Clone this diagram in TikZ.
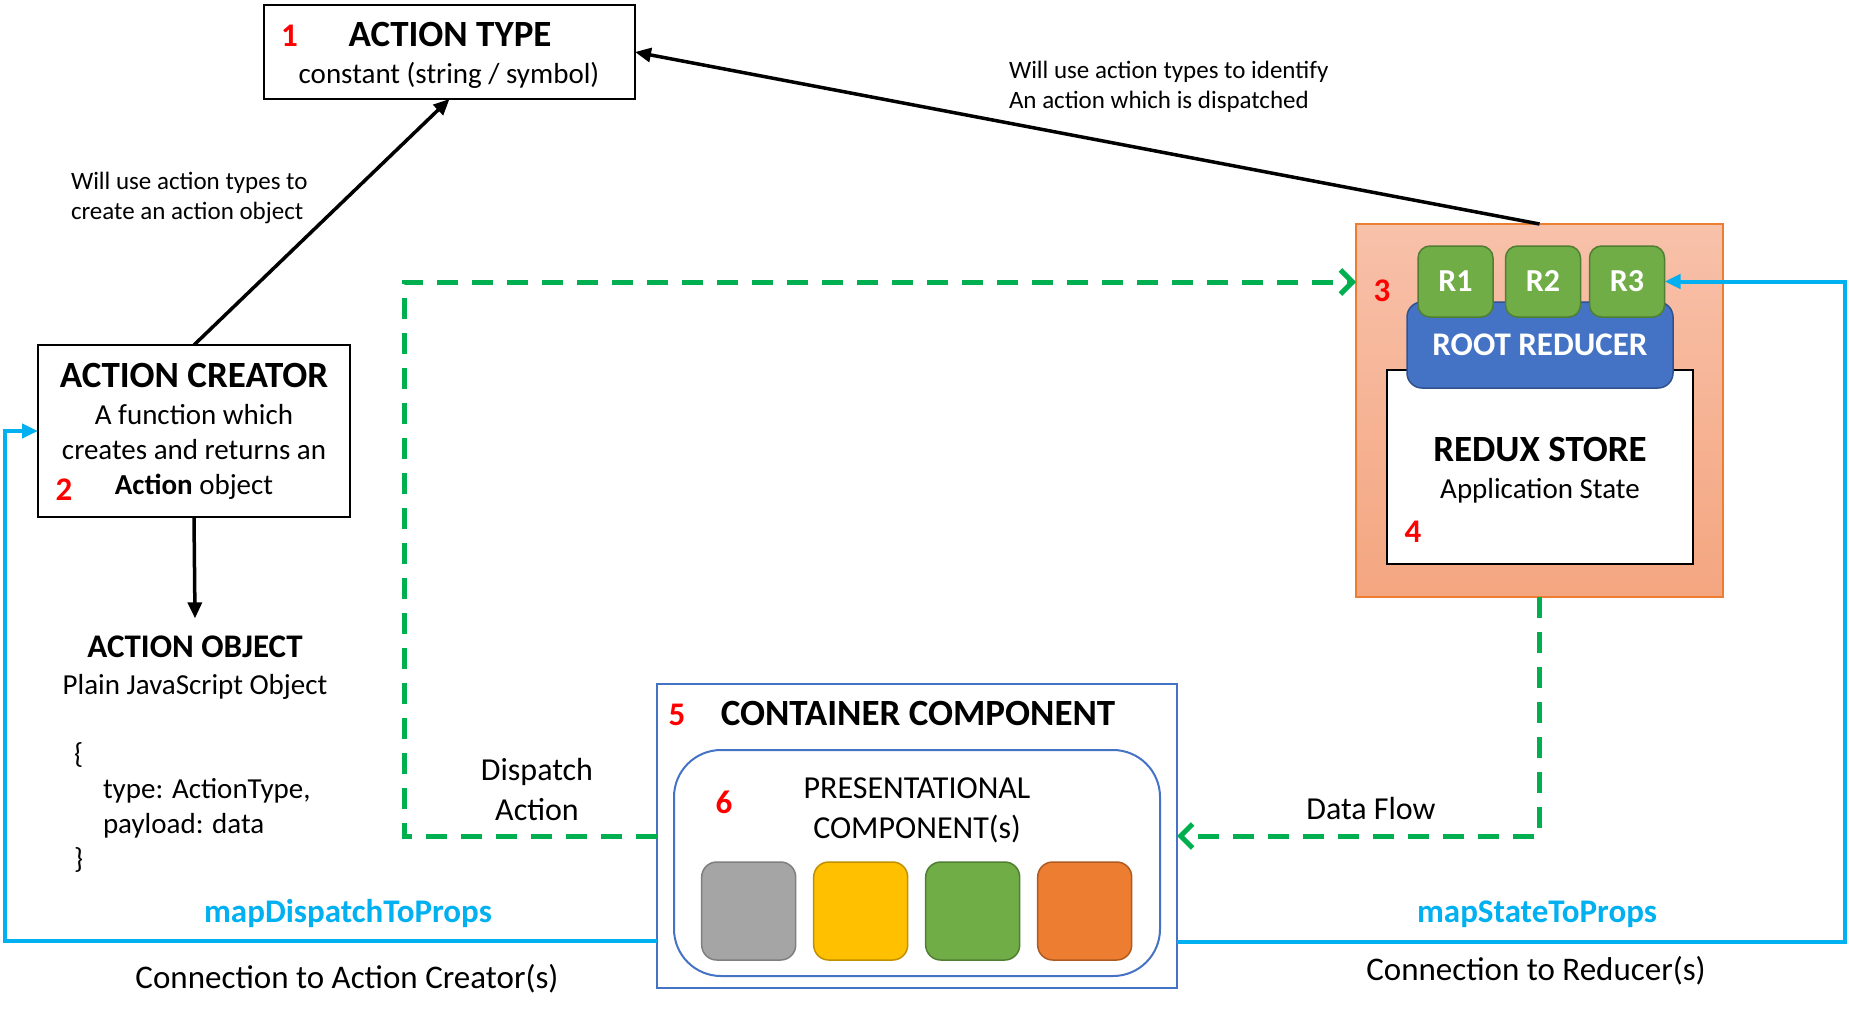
\documentclass[tikz,border=0pt]{standalone}
\usepackage{fontspec}
\setmainfont{Carlito}
\usetikzlibrary{arrows.meta,positioning}
\definecolor{numred}{HTML}{FF0000}
\definecolor{linkblue}{HTML}{00B0F0}
\definecolor{flowgreen}{HTML}{00B050}
\definecolor{boxblue}{HTML}{4472C4}
\definecolor{boxblueline}{HTML}{2F528F}
\definecolor{redgreen}{HTML}{70AD47}
\definecolor{redgreenline}{HTML}{507E32}
\definecolor{storeline}{HTML}{ED7D31}
\definecolor{storetop}{HTML}{F8C1AA}
\definecolor{storebot}{HTML}{F4A680}
\definecolor{tilegray}{HTML}{A5A5A5}
\definecolor{tilegrayline}{HTML}{7F7F7F}
\definecolor{tileyellow}{HTML}{FFC000}
\definecolor{tileyellowline}{HTML}{BF9000}
\definecolor{tilegreen}{HTML}{70AD47}
\definecolor{tilegreenline}{HTML}{507E32}
\definecolor{tileorange}{HTML}{ED7D31}
\definecolor{tileorangeline}{HTML}{AE5A21}
\begin{document}
\begin{tikzpicture}[x=1pt,y=-1pt,
        every node/.style={inner sep=0pt,outer sep=0pt},
        title/.style={font=\bfseries\fontsize{37}{44}\selectfont,anchor=base},
        body/.style={font=\fontsize{29}{35}\selectfont,anchor=base,align=center},
        note/.style={font=\fontsize{25}{30}\selectfont,anchor=base west,align=left},
        tag/.style={font=\fontsize{32}{40}\selectfont,anchor=base,align=center},
        conn/.style={font=\fontsize{33}{40}\selectfont,anchor=base},
        num/.style={font=\bfseries\fontsize{33}{40}\selectfont,text=numred,anchor=base},
        maplabel/.style={font=\bfseries\fontsize{33}{40}\selectfont,text=linkblue,anchor=base},
        plainbox/.style={draw,line width=2pt,fill=white},
        reducer/.style={draw=redgreenline,fill=redgreen,line width=1.5pt,rounded corners=12pt,minimum width=75pt,minimum height=71pt,text=white,font=\bfseries\fontsize{32}{40}\selectfont},
        tile/.style={line width=1.5pt,rounded corners=15pt,minimum width=94pt,minimum height=98pt},
        blackarrow/.style={line width=3.5pt,-{Triangle[length=16pt,width=14pt]}},
        flow/.style={flowgreen,line width=5pt,dash pattern=on 21pt off 14pt,-{Straight Barb[length=12pt,width=24pt]}},
        mapline/.style={linkblue,line width=4pt,-{Triangle[length=16pt,width=14pt]}}]
        \useasboundingbox (0,0) rectangle (1849,1017);
        \node[plainbox,minimum width=371pt,minimum height=94pt] (type) at (449.5,52) {};
        \node[title] (typetitle) at (450,46) {ACTION TYPE};
        \node[body] (typesub) at (449,83) {constant (string / symbol)};
        \node[num] (n1) at (289.5,46) {1};
        \node[note] (typenote) at (1009,108) {Will use action types to identify\\An action which is dispatched};
        \node[note] (creatornote) at (71,219) {Will use action types to\\create an action object};
        \node[plainbox,minimum width=312pt,minimum height=172pt] (creator) at (194,431) {};
        \node[title] (creatortitle) at (194,387) {ACTION CREATOR};
        \node[body] (creatortext) at (194,494) {A function which\\creates and returns an\\\textbf{Action} object};
        \node[num] (n2) at (64,500) {2};
        \node[font=\bfseries\fontsize{33}{40}\selectfont,anchor=base] (objtitle) at (195,657) {ACTION OBJECT};
        \node[body] (objsub) at (195,694) {Plain JavaScript Object};
        \node[body,anchor=base west,align=left] (objcode) at (74,868) {\{\\\hspace*{29pt}type: ActionType,\\\hspace*{29pt}payload: data\\\}};
        \node[draw=storeline,line width=1.5pt,top color=storetop,bottom color=storebot,minimum width=367pt,minimum height=373pt] (store) at (1539.5,410.5) {};
        \node[plainbox,minimum width=306pt,minimum height=194pt] (storebox) at (1540,467) {};
        \node[draw=boxblueline,fill=boxblue,line width=1.5pt,rounded corners=15pt,minimum width=266pt,minimum height=86pt,text=white,font=\bfseries\fontsize{33}{40}\selectfont] (root) at (1540,345) {ROOT REDUCER};
        \foreach \x [count=\i] in {1455.5,1543,1627}
            \node[reducer] (r\i) at (\x,281.5) {R\i};
        \node[title] (storetitle) at (1540,461) {REDUX STORE};
        \node[body] (storesub) at (1540,498) {Application State};
        \node[num] (n3) at (1382,301) {3};
        \node[num] (n4) at (1413,542) {4};
        \node[draw=boxblue,line width=2pt,minimum width=520pt,minimum height=304pt] (container) at (917,836) {};
        \node[title] (containertitle) at (918,725) {CONTAINER COMPONENT};
        \node[num] (n5) at (677,725) {5};
        \node[draw=boxblue,line width=2pt,rounded corners=47pt,minimum width=486pt,minimum height=226pt] (present) at (917,863) {};
        \node[tag] (presenttext) at (917,838) {PRESENTATIONAL\\COMPONENT(s)};
        \node[num] (n6) at (724,813) {6};
        \foreach \c [count=\i] in {tilegray,tileyellow,tilegreen,tileorange}
            \node[tile,fill=\c,draw=\c line] (tile\i) at ({748.7+112*(\i-1)},911) {};
        \node[tag] (dispatchtag) at (537,820) {Dispatch\\Action};
        \node[tag] (flowtag) at (1371,819) {Data Flow};
        \node[maplabel] (dispatchmap) at (348,922) {mapDispatchToProps};
        \node[conn] (dispatchconn) at (347,988) {Connection to Action Creator(s)};
        \node[maplabel] (statemap) at (1537,922) {mapStateToProps};
        \node[conn] (stateconn) at (1536,980) {Connection to Reducer(s)};
        \draw[blackarrow] (store.north) to (type.east);
        \draw[blackarrow] (creator.north) to (type.south);
        \draw[blackarrow] (creator.south) to ([yshift=17pt]objtitle.north);
        \coordinate (dispatchturn) at (404,282);
        \draw[flow] (container.west) -| (dispatchturn) -- (store.west |- dispatchturn);
        \draw[flow] (store.south) |- (container.east);
        \coordinate (creatorturn) at (5,941);
        \draw[mapline] ([yshift=-105pt]container.west) -- (creatorturn) |- (creator.west);
        \coordinate (reducerturn) at (1845,942);
        \draw[mapline] ([yshift=-106pt]container.east) -- (reducerturn) |- (r3.east);
    \end{tikzpicture}
\end{document}
